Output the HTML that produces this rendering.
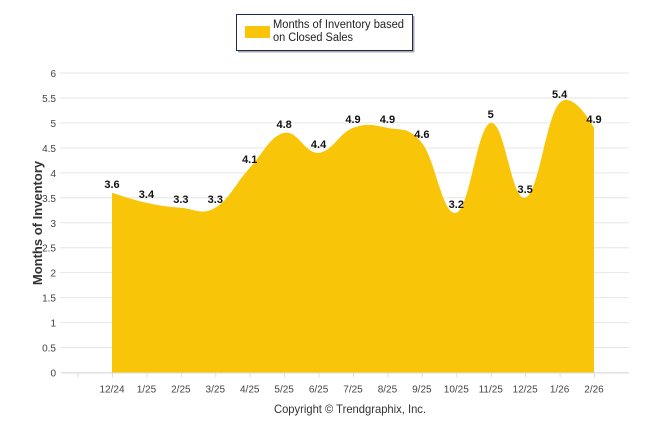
<!DOCTYPE html>
<html><head><meta charset="utf-8"><style>
body{margin:0;background:#fff;width:646px;height:434px;overflow:hidden;font-family:"Liberation Sans",Arial,sans-serif}
</style></head><body>
<svg id="chart" width="646" height="434" xmlns="http://www.w3.org/2000/svg" font-family="Liberation Sans, Arial, sans-serif">
<g id="grid"></g>
<g id="area"></g>
<g id="xaxis"></g>
<g id="yaxis"></g>
<g id="labels"></g>
<g>
<rect x="236.5" y="14.5" width="176" height="36" fill="#fff" stroke="#1a2a50" stroke-width="1"/>
<rect x="238" y="51" width="176" height="1.5" fill="#aaa"/><rect x="413" y="16" width="1.5" height="36" fill="#aaa"/>
<rect x="245" y="26" width="25" height="12" fill="#f8c508"/>
<text x="273" y="28" font-size="11.5" fill="#222" textLength="131" lengthAdjust="spacingAndGlyphs">Months of Inventory based</text>
<text x="273" y="41" font-size="11.5" fill="#222" textLength="80" lengthAdjust="spacingAndGlyphs">on Closed Sales</text>
</g>
<text transform="translate(42,223) rotate(-90)" text-anchor="middle" font-size="13" font-weight="bold" fill="#333">Months of Inventory</text>
<text x="350" y="413" text-anchor="middle" font-size="12" fill="#333" textLength="152" lengthAdjust="spacingAndGlyphs">Copyright © Trendgraphix, Inc.</text>
</svg>
<script>
const categories=["12/24","1/25","2/25","3/25","4/25","5/25","6/25","7/25","8/25","9/25","10/25","11/25","12/25","1/26","2/26"];
const values=[3.6,3.4,3.3,3.3,4.1,4.8,4.4,4.9,4.9,4.6,3.2,5,3.5,5.4,4.9];
const yTicks=[0,0.5,1,1.5,2,2.5,3,3.5,4,4.5,5,5.5,6];
const NS="http://www.w3.org/2000/svg";
const x0=112,step=34.43,yb=372.5,yt=73;
function X(i){return x0+i*step;}
function Y(v){return yb-(v/6)*(yb-yt);}
function mk(tag,attrs,parent){const e=document.createElementNS(NS,tag);for(const k in attrs)e.setAttribute(k,attrs[k]);parent.appendChild(e);return e;}
const grid=document.getElementById('grid'),ya=document.getElementById('yaxis'),xa=document.getElementById('xaxis');
yTicks.forEach(t=>{
 const l=mk('line',{x1:60,x2:629,y1:Y(t),y2:Y(t),stroke:'#e6e6e6','stroke-width':1},grid);
 
 
 const tx=mk('text',{x:56,y:Y(t)+4,'text-anchor':'end','font-size':'10',fill:'#444'},ya);
 
 
 tx.textContent=t;
});
const ax=mk('line',{x1:62,x2:629,y1:yb+0.5,y2:yb+0.5,stroke:'#ddd'},xa);


for(let i=-1;i<categories.length;i++){
 const tk=mk('line',{x1:X(i)+0.5,x2:X(i)+0.5,y1:yb,y2:yb+5,stroke:'#ddd'},xa);
 
 
}
categories.forEach((c,i)=>{
 const t=mk('text',{x:X(i),y:yb+20,'text-anchor':'middle','font-size':'10',fill:'#444'},xa);
 
 
 t.textContent=c;
});
const pts=values.map((v,i)=>({x:X(i),y:Y(v)}));
function cont(i){
 const p=pts[i],l=pts[i-1],n=pts[i+1];
 if(!l||!n)return{lx:p.x,ly:p.y,rx:p.x,ry:p.y};
 const s=1.5,d=2.5;
 let lx=(s*p.x+l.x)/d,ly=(s*p.y+l.y)/d,rx=(s*p.x+n.x)/d,ry=(s*p.y+n.y)/d;
 const corr=((ry-ly)*(rx-p.x))/(rx-lx)+p.y-ry;ly+=corr;ry+=corr;
 return{lx,ly,rx,ry};
}
const cs=pts.map((p,i)=>cont(i));
let d=`M${pts[0].x},${yb} L${pts[0].x},${pts[0].y}`;
for(let i=1;i<pts.length;i++){d+=` C${cs[i-1].rx},${cs[i-1].ry} ${cs[i].lx},${cs[i].ly} ${pts[i].x},${pts[i].y}`;}
d+=` L${pts[pts.length-1].x},${yb} Z`;
const area=mk('path',{d:d,fill:'#f8c508'},document.getElementById('area'));


const lb=document.getElementById('labels');
values.forEach((v,i)=>{
 const t=mk('text',{x:X(i),y:Y(v)-5,'text-anchor':'middle','font-size':'11','font-weight':'bold',fill:'#111'},lb);
 
 
 t.textContent=v;
});
</script>
</body></html>
